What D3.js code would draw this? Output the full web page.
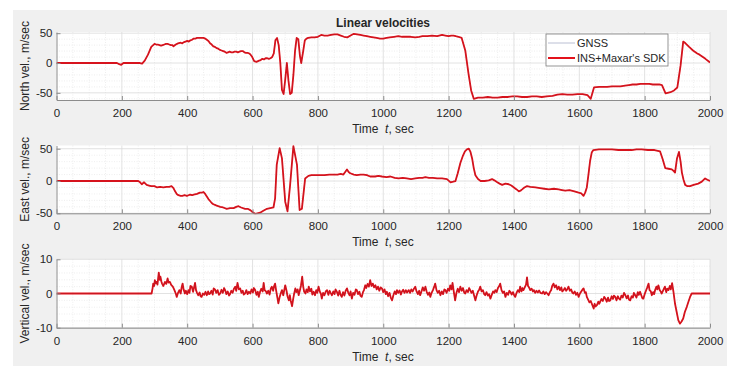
<!DOCTYPE html>
<html>
<head>
<meta charset="utf-8">
<script src="https://cdn.jsdelivr.net/npm/d3@7"></script>
<style>
  body { margin: 0; background: #fff; }
  text { font-family: "Liberation Sans", Arial, sans-serif; fill: #262626; white-space: pre; }
</style>
</head>
<body>
<svg id="chart" width="735" height="368"></svg>
<script>
// time axis
const timeTicks = [0, 200, 400, 600, 800, 1000, 1200, 1400, 1600, 1800, 2000];
const timeRange = [0, 2000];

// North velocity, m/sec  [t, v]
const northVel = [[0,0],[185,0],[192,-2],[198,-3],[205,0],[255,0],[262,-1],[270,4],[280,14],[290,27],[300,32],[305,31],[310,31],[315,30],[320,29],[325,30],[330,31],[335,32],[340,32],[345,31],[350,30],[355,30],[358,28],[365,31],[372,33],[380,34],[385,33],[390,35],[395,36],[400,37],[405,36],[410,38],[415,39],[420,41],[425,41],[430,42],[440,42],[450,42],[455,41],[460,39],[465,37],[470,33],[475,31],[480,28],[485,27],[490,25],[495,24],[500,22],[505,21],[510,20],[515,19],[520,17],[525,18],[530,19],[535,18],[540,18],[545,19],[550,19],[555,18],[560,19],[565,20],[570,20],[575,18],[580,17],[585,17],[590,16],[594,14],[598,11],[605,3],[612,2],[620,4],[625,5],[630,7],[635,6],[640,8],[645,8],[650,7],[655,8],[660,10],[665,16],[670,38],[675,42],[680,30],[685,0],[690,-45],[695,-52],[700,-28],[705,0],[710,-30],[715,-52],[720,-50],[725,-20],[730,20],[735,42],[740,40],[745,12],[749,0],[755,20],[760,38],[765,41],[770,42],[780,43],[790,43],[800,44],[810,47],[820,46],[830,46],[840,47],[850,48],[860,48],[870,46],[880,44],[890,43],[900,46],[910,49],[920,48],[930,47],[940,46],[950,45],[960,44],[970,43],[980,42],[990,41],[1000,41],[1010,42],[1020,43],[1033,44],[1046,45],[1058,44],[1070,44],[1084,44],[1098,43],[1110,44],[1120,45],[1135,45],[1149,46],[1165,45],[1180,47],[1190,46],[1200,45],[1208,46],[1215,46],[1222,45],[1230,44],[1240,42],[1251,21],[1261,-18],[1269,-46],[1277,-60],[1290,-58],[1305,-58],[1320,-57],[1335,-58],[1350,-58],[1365,-57],[1380,-57],[1395,-56],[1410,-56],[1425,-57],[1440,-57],[1455,-56],[1470,-56],[1485,-57],[1500,-56],[1518,-55],[1533,-53],[1548,-52],[1563,-53],[1579,-53],[1595,-52],[1610,-52],[1625,-54],[1635,-60],[1645,-41],[1661,-40],[1673,-40],[1685,-40],[1700,-39],[1712,-39],[1726,-39],[1740,-38],[1752,-37],[1763,-36],[1775,-36],[1787,-35],[1800,-35],[1814,-35],[1825,-36],[1835,-36],[1845,-36],[1853,-37],[1864,-51],[1879,-49],[1890,-46],[1900,-41],[1910,-4],[1918,36],[1925,33],[1936,27],[1948,21],[1961,16],[1968,14],[1976,11],[1986,7],[2000,1]];

// East velocity, m/sec
const eastVel = [[0,0],[250,0],[256,-2],[261,-5],[268,-2],[276,-6],[283,-7],[290,-8],[300,-8],[308,-10],[317,-9],[327,-10],[337,-9],[345,-9],[352,-8],[358,-11],[363,-16],[368,-20],[373,-22],[380,-23],[385,-23],[392,-22],[399,-23],[404,-22],[409,-21],[415,-22],[420,-21],[430,-20],[439,-18],[445,-18],[450,-17],[455,-20],[460,-24],[465,-28],[470,-31],[475,-34],[480,-36],[485,-37],[490,-38],[495,-39],[501,-40],[510,-41],[521,-43],[531,-42],[542,-42],[550,-40],[557,-39],[565,-41],[577,-43],[585,-43],[593,-45],[600,-48],[608,-51],[615,-50],[623,-49],[633,-46],[644,-43],[654,-42],[664,-41],[669,-27],[674,25],[683,51],[690,35],[700,-32],[707,-47],[715,-6],[725,54],[736,25],[744,-45],[751,-43],[761,4],[771,8],[780,9],[790,9],[807,9],[820,9],[835,10],[848,10],[860,10],[870,11],[878,10],[889,18],[894,14],[899,12],[910,10],[919,9],[930,10],[940,10],[950,9],[960,7],[975,7],[985,8],[996,7],[1010,6],[1022,7],[1035,5],[1047,4],[1060,5],[1072,4],[1085,3],[1098,4],[1110,5],[1120,5],[1129,6],[1140,5],[1152,5],[1165,4],[1180,4],[1195,3],[1206,-2],[1214,-1],[1221,0],[1228,12],[1236,28],[1243,38],[1250,46],[1256,49],[1262,50],[1267,45],[1272,35],[1277,20],[1282,9],[1290,3],[1298,0],[1310,0],[1323,1],[1333,3],[1340,1],[1349,-2],[1356,-4],[1364,-6],[1374,-4],[1384,-5],[1392,-7],[1400,-10],[1408,-13],[1415,-16],[1420,-15],[1425,-13],[1432,-10],[1440,-8],[1450,-9],[1466,-10],[1480,-11],[1493,-12],[1507,-13],[1522,-12],[1537,-13],[1547,-14],[1557,-15],[1570,-14],[1585,-16],[1598,-18],[1606,-19],[1613,-23],[1618,-18],[1623,-10],[1628,10],[1633,31],[1638,44],[1643,48],[1660,49],[1679,49],[1700,49],[1720,48],[1740,48],[1760,48],[1775,49],[1791,49],[1810,48],[1830,48],[1847,46],[1855,34],[1863,20],[1873,19],[1883,18],[1888,16],[1893,13],[1899,35],[1905,45],[1910,30],[1914,13],[1919,2],[1924,-6],[1931,-8],[1939,-8],[1950,-6],[1964,-4],[1975,-1],[1985,4],[1992,2],[2000,0]];

// Vertical velocity, m/sec
const vertVel = [[0,0],[291,0],[294,1.5],[296,2.9],[299,2.2],[301,3.9],[304,3.0],[306,3.4],[309,2.6],[313,6.1],[316,4.0],[318,4.9],[321,3.5],[323,2.9],[327,2.2],[332,3.4],[336,2.8],[340,4.4],[343,3.2],[347,3.4],[351,2.5],[356,2],[360,1.2],[363,0.5],[366,-0.3],[368,-1],[372,0.2],[376,1],[380,0],[383,1.8],[386,2.9],[389,1.2],[393,0],[396,0.8],[400,-0.2],[404,1],[407,0.2],[410,2.2],[414,2],[418,0.5],[421,1.8],[424,3.1],[427,1.0],[430,0.2],[434,-0.5],[438,0.3],[441,-0.8],[444,-1],[448,0],[452,-0.4],[456,0.5],[460,-0.5],[464,0.6],[467,-0.2],[470,0],[474,0.8],[478,-0.3],[481,1.5],[485,1.2],[489,0.2],[493,1.0],[497,-0.4],[501,0],[505,1.1],[509,0.2],[513,1.6],[516,1],[520,-0.2],[524,0.6],[528,-0.6],[531,-0.2],[535,0.8],[539,0.2],[543,1.4],[547,2],[550,0.8],[554,3.1],[558,1.2],[562,1.5],[566,0.2],[570,0.8],[573,-0.3],[577,0],[581,1.0],[585,-0.2],[589,0.5],[593,0],[597,1.2],[601,0.3],[604,1.6],[608,1],[612,-0.4],[616,0.5],[619,-1],[623,0.5],[627,1.4],[631,0.6],[634,3.1],[637,1.0],[641,0.6],[644,0],[648,0.8],[652,-0.3],[656,1.5],[659,2],[663,0.8],[666,2.2],[669,2.9],[672,1.0],[676,-1.2],[679,-2.9],[683,-1.0],[687,0.2],[690,1],[694,-0.5],[697,1.0],[700,2.4],[704,0.8],[707,-0.8],[711,-2],[714,-0.5],[717,-2.2],[721,-3.7],[724,-1.8],[727,-0.2],[731,1.5],[734,0.4],[738,1.2],[741,-0.5],[744,0.6],[748,2.2],[752,4.9],[755,2.0],[758,0.5],[762,0],[765,1.2],[769,0.4],[772,2],[776,0.6],[780,1.4],[783,-0.3],[787,0.5],[791,-0.5],[795,1.0],[798,0.2],[802,2],[806,0.5],[809,0],[812,-1.5],[816,0.2],[820,-0.5],[824,0.6],[828,1],[832,-0.4],[836,0.8],[839,0.2],[843,-0.5],[847,0.6],[851,-0.2],[854,1.2],[858,0.5],[862,-0.6],[866,0.8],[869,-0.3],[873,-1],[877,0.4],[881,-0.6],[885,0.8],[889,1.5],[893,0.2],[897,-0.5],[900,0.6],[904,-1.5],[908,0.2],[912,-0.4],[916,1.2],[919,1],[923,-0.2],[927,0.5],[930,-0.6],[934,-1],[938,0.4],[941,1.0],[945,2.4],[948,1.6],[952,2.8],[956,2.0],[960,3.9],[964,2.2],[968,2.9],[972,1.8],[976,2.4],[980,1.2],[984,2.0],[988,0.8],[992,1.8],[996,1.5],[1000,0.4],[1004,1.2],[1008,-0.2],[1011,0.5],[1015,-0.8],[1019,0.2],[1023,-1.2],[1027,-2],[1031,-0.5],[1035,0.6],[1039,-0.2],[1042,1],[1046,0.2],[1050,0.9],[1054,-0.3],[1057,0.5],[1061,1.1],[1065,0.2],[1069,1.0],[1073,0.3],[1078,1],[1082,0.2],[1086,1.2],[1090,0.6],[1094,1.4],[1098,2],[1102,0.6],[1106,-0.2],[1110,0.8],[1113,-0.5],[1117,0.6],[1121,1.8],[1125,0.8],[1129,2],[1133,0.5],[1137,-0.4],[1141,0.3],[1144,-1],[1148,0.2],[1152,1.0],[1156,2.0],[1159,2.9],[1163,1.0],[1167,0.2],[1171,0.8],[1175,-0.5],[1179,0.6],[1183,-0.2],[1187,1.2],[1190,1],[1194,0.2],[1198,1.4],[1202,0.8],[1205,2.4],[1209,1.2],[1212,3.1],[1216,0.5],[1220,-2],[1224,0.2],[1228,1.4],[1232,0.4],[1236,2],[1240,0.8],[1244,1.6],[1248,0.2],[1251,0],[1255,1.0],[1259,0.4],[1263,1.6],[1266,1],[1270,0.2],[1274,0.8],[1278,-0.6],[1282,-2],[1286,-0.5],[1290,0.6],[1294,1.2],[1297,2],[1301,0.6],[1305,1.0],[1309,-0.2],[1312,-0.5],[1316,0.4],[1320,-0.6],[1324,-0.2],[1328,-1.5],[1332,-0.4],[1336,0.6],[1340,0.2],[1343,1],[1347,0.4],[1351,1.6],[1355,2.2],[1358,2.9],[1362,1.0],[1366,0.2],[1370,0.6],[1374,-1],[1378,0.2],[1382,-0.4],[1386,0.8],[1389,0.5],[1393,-0.3],[1397,0.4],[1401,-0.6],[1404,-1],[1408,0.2],[1412,1.0],[1416,0.4],[1419,2],[1423,0.6],[1426,1.6],[1429,1],[1433,1.8],[1437,2.6],[1440,4.7],[1443,2.2],[1446,1.8],[1450,1],[1454,1.4],[1458,0.6],[1461,1.0],[1465,0.2],[1469,0.8],[1473,0.3],[1477,0.9],[1481,0.2],[1486,0],[1490,0.6],[1494,-0.2],[1498,0.4],[1502,0],[1506,-0.5],[1510,0.4],[1514,1.0],[1517,2.2],[1521,2.9],[1525,1.8],[1529,2.4],[1533,1.2],[1537,2],[1541,1.0],[1545,1.8],[1548,0.6],[1552,1],[1556,1.6],[1560,0.8],[1564,1.4],[1567,2],[1571,0.8],[1575,1.2],[1579,0.2],[1582,0],[1586,0.6],[1590,-0.4],[1594,0.2],[1598,-1],[1602,0],[1606,0.6],[1610,1.2],[1613,1.5],[1617,0.2],[1620,0.4],[1623,-1],[1627,-1.8],[1631,-2.6],[1635,-2.2],[1640,-3.4],[1644,-4.4],[1647,-3.0],[1650,-3.8],[1654,-3.4],[1658,-2.4],[1661,-3.0],[1664,-2.4],[1668,-1.6],[1672,-2.2],[1676,-1.0],[1680,-1.5],[1684,-2.4],[1688,-1.2],[1691,-2.2],[1695,-2],[1699,-0.8],[1703,-1.6],[1706,-0.6],[1710,-1],[1714,-2.0],[1718,-0.8],[1721,-1.4],[1725,-1.8],[1729,-0.6],[1733,-1.2],[1737,0.2],[1741,-0.5],[1745,-1.4],[1749,-0.6],[1752,-1.8],[1756,-2],[1760,-0.8],[1764,-1.2],[1767,0.2],[1771,-0.5],[1775,-1.2],[1779,0.4],[1782,-0.4],[1786,0.5],[1790,-0.6],[1793,-1.4],[1796,-1.5],[1800,-0.2],[1804,0.8],[1808,1.8],[1812,2.9],[1815,1.0],[1819,0.6],[1822,-0.5],[1826,0.4],[1829,-0.2],[1832,1],[1836,2.0],[1839,1.2],[1842,2.4],[1846,1.0],[1849,0.6],[1852,0],[1856,0.8],[1859,1.4],[1862,2],[1866,0.4],[1869,1.4],[1873,1],[1877,2.2],[1880,1.2],[1884,3],[1888,0.6],[1893,-3],[1898,-5.4],[1903,-7.8],[1908,-8.8],[1913,-8.2],[1918,-7.3],[1923,-5.4],[1929,-3.9],[1934,-2.4],[1939,-1],[1944,0],[2000,0]];

const seriesNames = ["GNSS", "INS+Maxar's SDK"];

const panels = [
  { label: "North vel., m/sec", data: northVel, domain: [-62, 52], ticks: [-50, 0, 50], minor: 10, top: 32, bottom: 100 },
  { label: "East vel., m/sec", data: eastVel, domain: [-50, 55], ticks: [-50, 0, 50], minor: 10, top: 145.5, bottom: 213.3 },
  { label: "Vertical vel., m/sec", data: vertVel, domain: [-10, 10], ticks: [-10, 0, 10], minor: 2, top: 259.3, bottom: 327.7 }
];

const svg = d3.select("#chart");

// figure background
svg.append("rect")
    .attr("x", 13).attr("y", 10)
    .attr("width", 714).attr("height", 356)
    .attr("fill", "#f0f0f0");

const x = d3.scaleLinear().domain(timeRange).range([56.5, 710]);

panels.forEach((p, i) => {
    const y = d3.scaleLinear().domain(p.domain).range([p.bottom, p.top]);
    const g = svg.append("g");

    g.append("rect")
        .attr("x", x.range()[0]).attr("y", p.top)
        .attr("width", x.range()[1] - x.range()[0])
        .attr("height", p.bottom - p.top)
        .attr("fill", "#fff");

    // minor grid
    const minorX = d3.range(50, 2000, 50).filter(t => t % 200 !== 0);
    g.selectAll(".mx").data(minorX).enter().append("line")
        .attr("x1", d => x(d)).attr("x2", d => x(d))
        .attr("y1", p.top).attr("y2", p.bottom)
        .attr("stroke", "#e2e2e2").attr("stroke-width", 0.6)
        .attr("stroke-dasharray", "1,1.5");
    const minorY = d3.range(Math.ceil(p.domain[0] / p.minor) * p.minor, p.domain[1], p.minor)
        .filter(v => !p.ticks.includes(v));
    g.selectAll(".my").data(minorY).enter().append("line")
        .attr("x1", x.range()[0]).attr("x2", x.range()[1])
        .attr("y1", d => y(d)).attr("y2", d => y(d))
        .attr("stroke", "#e2e2e2").attr("stroke-width", 0.6)
        .attr("stroke-dasharray", "1,1.5");

    // major grid
    g.selectAll(".gx").data(timeTicks.slice(1)).enter().append("line")
        .attr("x1", d => x(d)).attr("x2", d => x(d))
        .attr("y1", p.top).attr("y2", p.bottom)
        .attr("stroke", "#dadada").attr("stroke-width", 0.8);
    g.selectAll(".gy").data(p.ticks).enter().append("line")
        .attr("x1", x.range()[0]).attr("x2", x.range()[1])
        .attr("y1", d => y(d)).attr("y2", d => y(d))
        .attr("stroke", "#dadada").attr("stroke-width", 0.8);

    // data
    const clipId = "clip" + i;
    svg.append("clipPath").attr("id", clipId).append("rect")
        .attr("x", x.range()[0]).attr("y", p.top - 1)
        .attr("width", x.range()[1] - x.range()[0])
        .attr("height", p.bottom - p.top + 2);

    const line = d3.line().x(d => x(d[0])).y(d => y(d[1]));

    g.append("path")
        .datum(p.data)
        .attr("clip-path", `url(#${clipId})`)
        .attr("d", line)
        .attr("fill", "none")
        .attr("stroke", "#e3121b")
        .attr("stroke-width", 1.8)
        .attr("stroke-linejoin", "round");

    // GNSS trace, drawn thin over the INS solution
    g.append("path")
        .datum(p.data)
        .attr("clip-path", `url(#${clipId})`)
        .attr("d", line)
        .attr("fill", "none")
        .attr("stroke", "#8a2030")
        .attr("stroke-opacity", 0.45)
        .attr("stroke-width", 0.6);

    // axes
    const fmt = d => String(d);
    const xAxis = g.append("g")
        .attr("transform", `translate(0,${p.bottom})`)
        .call(d3.axisBottom(x).tickValues(timeTicks).tickFormat(fmt)
            .tickSizeInner(-4).tickSizeOuter(0).tickPadding(9));
    const yAxis = g.append("g")
        .attr("transform", `translate(${x.range()[0]},0)`)
        .call(d3.axisLeft(y).tickValues(p.ticks).tickFormat(fmt)
            .tickSizeInner(-4).tickSizeOuter(0).tickPadding(4));

    [xAxis, yAxis].forEach(a => {
        a.select(".domain").attr("stroke", "#8c8c8c");
        a.selectAll(".tick line").attr("stroke", "#8c8c8c");
        a.selectAll(".tick text").attr("font-size", 11.5).attr("fill", "#262626");
    });

    // x label
    const xl = g.append("text")
        .attr("x", 383).attr("y", p.bottom + 33)
        .attr("text-anchor", "middle")
        .attr("font-size", 12);
    xl.append("tspan").text("Time  ");
    xl.append("tspan").attr("font-style", "italic").text("t");
    xl.append("tspan").text(", sec");

    // y label
    g.append("text")
        .attr("transform", `translate(29,${(p.top + p.bottom) / 2}) rotate(-90)`)
        .attr("text-anchor", "middle")
        .attr("font-size", 12)
        .text(p.label);
});

// title
svg.append("text")
    .attr("x", 383).attr("y", 27)
    .attr("text-anchor", "middle")
    .attr("font-size", 12)
    .attr("font-weight", "bold")
    .attr("fill", "#000")
    .text("Linear velocities");

// legend
const legend = svg.append("g").attr("transform", "translate(546,34)");
legend.append("rect")
    .attr("width", 122).attr("height", 32)
    .attr("fill", "#fff")
    .attr("stroke", "#7a7a7a").attr("stroke-width", 0.8);
const legendStyles = [
    { color: "#a8aec8", width: 0.8 },
    { color: "#e3121b", width: 2 }
];
seriesNames.forEach((name, i) => {
    const yy = 9 + i * 15;
    legend.append("line")
        .attr("x1", 2).attr("x2", 29).attr("y1", yy).attr("y2", yy)
        .attr("stroke", legendStyles[i].color)
        .attr("stroke-width", legendStyles[i].width);
    legend.append("text")
        .attr("x", 31).attr("y", yy + 4)
        .attr("font-size", 11)
        .text(name);
});
</script>
</body>
</html>
